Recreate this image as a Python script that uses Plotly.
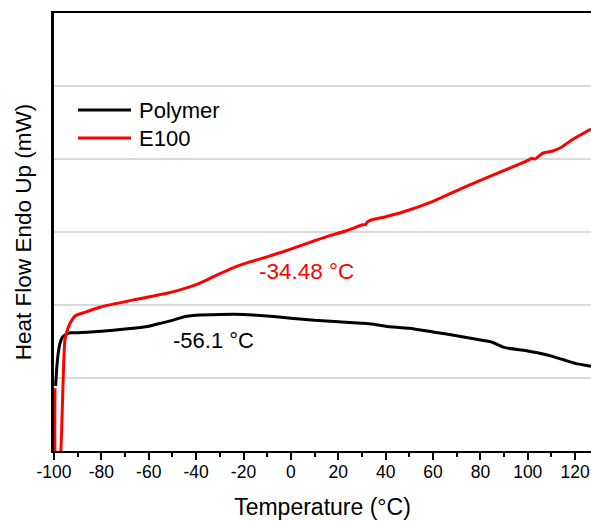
import plotly.graph_objects as go

# Polymer (black) curve
polymer_x = [-99.3, -98.9, -98.3, -97.5, -96.6, -95.4, -93.2, -90, -80, -70, -60, -55, -50, -45, -40,
             -30, -20, -10, 0, 10, 20, 30, 34, 40, 50, 60, 70, 80, 85, 90, 100, 105, 110, 115, 120, 126.7]
polymer_y = [0.89, 1.11, 1.32, 1.47, 1.55, 1.59, 1.62, 1.62, 1.64, 1.67, 1.71, 1.75, 1.79, 1.84, 1.86,
             1.87, 1.87, 1.85, 1.82, 1.79, 1.77, 1.75, 1.74, 1.71, 1.68, 1.63, 1.58, 1.52, 1.49, 1.42,
             1.37, 1.34, 1.30, 1.25, 1.20, 1.16]

# E100 (red) curve
e100_x = [-99.6, -98.9, -98.2, -95.4, -94.3, -93.2, -91.1, -87, -80.6, -66.5, -52.3, -45.4, -38.4,
          -31.3, -24.4, -17.3, -10.1, -3.3, 3.8, 10, 16.5, 22.8, 30.4, 31.5, 32.1, 33.4, 40, 46, 60,
          74.3, 88.3, 100.1, 101.6, 103, 106.4, 110.6, 113.6, 119.1, 126.7]
e100_y = [0.86, -0.53, -0.53, 1.52, 1.66, 1.75, 1.85, 1.90, 1.97, 2.07, 2.16, 2.22, 2.30,
          2.41, 2.51, 2.59, 2.66, 2.73, 2.81, 2.88, 2.95, 3.01, 3.10, 3.10, 3.13, 3.16, 3.21, 3.26, 3.42,
          3.63, 3.82, 3.98, 4.01, 4.00, 4.08, 4.11, 4.15, 4.27, 4.41]

x_tickvals = [-100, -80, -60, -40, -20, 0, 20, 40, 60, 80, 100, 120]
x_ticktext = ["-100", "-80", "-60", "-40", "-20", "0", "20", "40", "60", "80", "100", "120"]

series_names = ["Polymer", "E100"]
series_colors = ["#000000", "#ff0000"]

FONT = "Liberation Sans, Arial, sans-serif"

fig = go.Figure()
fig.add_trace(go.Scatter(x=polymer_x, y=polymer_y, mode="lines", name=series_names[0],
                         line=dict(color=series_colors[0], width=3, shape="spline", smoothing=0.6),
                         showlegend=False))
fig.add_trace(go.Scatter(x=e100_x, y=e100_y, mode="lines", name=series_names[1],
                         line=dict(color=series_colors[1], width=3, shape="spline", smoothing=0.6),
                         showlegend=False))

fig.add_annotation(x=-32.7, y=1.52, text="-56.1 °C", showarrow=False,
                   font=dict(size=22, color="#000000", family=FONT))
fig.add_annotation(x=6.4, y=2.46, text="-34.48 °C", showarrow=False,
                   font=dict(size=22.5, color="#ff0000", family=FONT))

# custom legend (paper coordinates)
leg_rows = [0.7785, 0.7146]
for name, color, yy in zip(series_names, series_colors, leg_rows):
    fig.add_shape(type="line", xref="paper", yref="paper", x0=0.0447, x1=0.1434, y0=yy, y1=yy,
                  line=dict(color=color, width=3))
    fig.add_annotation(xref="paper", yref="paper", x=0.1546, y=yy, text=name, showarrow=False,
                       xanchor="left", yanchor="middle",
                       font=dict(size=22, color="#000000", family=FONT))

fig.update_layout(
    width=591, height=521,
    margin=dict(l=54, r=0, t=13, b=70),
    paper_bgcolor="white", plot_bgcolor="white",
    font=dict(family=FONT, color="#000000"),
    showlegend=False,
    xaxis=dict(range=[-100, 126.7], tickvals=x_tickvals, ticktext=x_ticktext, ticks="outside",
               ticklen=7, tickwidth=1.5, automargin=False, ticklabelstandoff=-3,
               tickcolor="#000", showline=True, linecolor="#000", linewidth=2, mirror=True,
               showgrid=False, zeroline=False, tickfont=dict(size=17.5),
               minor=dict(dtick=10, ticks="outside", ticklen=4, tickwidth=1.5, tickcolor="#000"),
               title=dict(text="Temperature (°C)", font=dict(size=23), standoff=18)),
    yaxis=dict(range=[0, 6], dtick=1, showticklabels=False, ticks="", showline=True,
               linecolor="#000", linewidth=3, showgrid=True, gridcolor="#d9d9d9", gridwidth=1.5,
               zeroline=False, automargin=False,
               title=dict(text="Heat Flow Endo Up (mW)", font=dict(size=22.5), standoff=14)),
)

fig.write_html("out.html", config={"displayModeBar": False},
               post_script="document.body.style.margin='0';")
